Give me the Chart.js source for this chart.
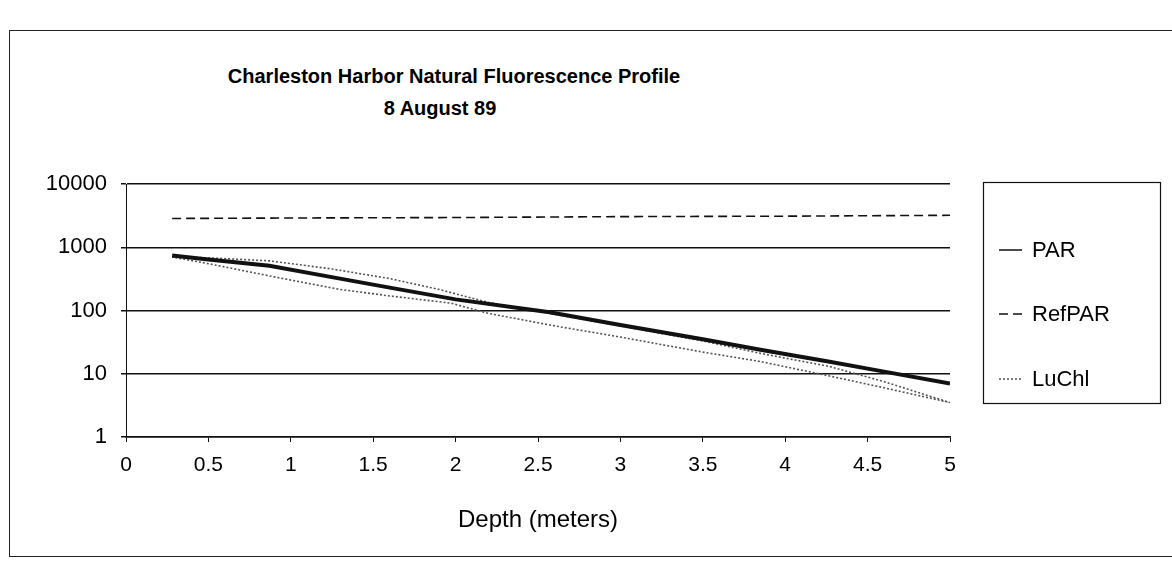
<!DOCTYPE html>
<html>
<head>
<meta charset="utf-8">
<script src="https://cdn.jsdelivr.net/npm/chart.js@4.4.1/dist/chart.umd.min.js"></script>
<style>
  html, body { margin: 0; padding: 0; background: #fff; }
  #wrap { position: relative; width: 1172px; height: 564px; overflow: hidden; font-family: "Liberation Sans", Arial, sans-serif; }
  #frame { position: absolute; left: 9px; top: 30px; width: 1200px; height: 525px; border-left: 1.5px solid #222; border-top: 1.5px solid #222; border-bottom: 1.5px solid #222; }
  .ttl { position: absolute; white-space: nowrap; font-weight: bold; color: #000; transform: translate(-50%, -50%); }
  #t1 { left: 454px; top: 76px; font-size: 20px; }
  #t2 { left: 440px; top: 108px; font-size: 20px; }
  canvas { position: absolute; left: 0; top: 0; }
</style>
</head>
<body>
<div id="wrap">
  <div id="frame"></div>
  <div class="ttl" id="t1">Charleston Harbor Natural Fluorescence Profile</div>
  <div class="ttl" id="t2">8 August 89</div>
  <canvas id="c" width="1172" height="564"></canvas>
</div>
<script>
// ---- data ----
const seriesNames = ["PAR", "RefPAR", "LuChl"];
const xTickLabels = ["0", "0.5", "1", "1.5", "2", "2.5", "3", "3.5", "4", "4.5", "5"];
const yTickLabels = ["1", "10", "100", "1000", "10000"];

const parDepth  = [0.28, 0.5, 0.87, 1.24, 1.6, 2.0, 2.57, 3.0, 3.5, 3.85, 4.27, 4.6, 5.0];
const parValues = [740, 640, 510, 340, 230, 150, 94, 59, 35, 24, 15.5, 10.8, 7];

const refDepth  = [0.28, 1.0, 2.0, 3.0, 4.0, 5.0];
const refValues = [2850, 2900, 2950, 3050, 3100, 3200];

// LuChl: down cast then up cast (loop)
const luDepth  = [0.28, 0.5, 0.87, 1.24, 1.6, 1.9, 2.2, 2.57, 3.0, 3.5, 3.85, 4.27, 4.6, 5.0,
                  4.6, 4.27, 3.85, 3.5, 3.0, 2.57, 2.2, 1.97, 1.6, 1.3, 0.9, 0.5, 0.28];
const luValues = [700, 680, 610, 457, 320, 215, 134, 90, 57, 33, 21, 13, 7.5, 3.5,
                  6, 9.2, 15.6, 22, 38, 59, 90, 131, 170, 215, 340, 550, 700];

function pts(xs, ys) { return xs.map((x, i) => ({ x: x, y: ys[i] })); }

const FONT = "'Liberation Sans', Arial, sans-serif";

const legendPlugin = {
  id: 'boxLegend',
  afterDraw(chart) {
    const ctx = chart.ctx;
    ctx.save();
    ctx.strokeStyle = '#111';
    ctx.lineWidth = 1.2;
    ctx.setLineDash([]);
    ctx.strokeRect(983.5, 182.5, 177, 221);
    const ys = [250, 314, 379];
    chart.data.datasets.forEach((ds, i) => {
      ctx.beginPath();
      ctx.strokeStyle = ds.borderColor;
      ctx.lineWidth = Math.min(ds.borderWidth, 1.5);
      ctx.setLineDash(ds.borderDash || []);
      ctx.moveTo(999, ys[i]);
      ctx.lineTo(1022, ys[i]);
      ctx.stroke();
      ctx.setLineDash([]);
      ctx.fillStyle = '#000';
      ctx.font = '22px ' + FONT;
      ctx.textBaseline = 'middle';
      ctx.textAlign = 'left';
      ctx.fillText(ds.label, 1032, ys[i] + 1);
    });
    ctx.restore();
  }
};

new Chart(document.getElementById('c'), {
  type: 'scatter',
  data: {
    datasets: [
      { label: seriesNames[0], data: pts(parDepth, parValues), showLine: true, borderColor: '#111', borderWidth: 4, pointRadius: 0, tension: 0 },
      { label: seriesNames[1], data: pts(refDepth, refValues), showLine: true, borderColor: '#111', borderWidth: 1.6, borderDash: [9, 5], pointRadius: 0, tension: 0 },
      { label: seriesNames[2], data: pts(luDepth, luValues), showLine: true, borderColor: '#555', borderWidth: 1.6, borderDash: [2, 2], pointRadius: 0, tension: 0 }
    ]
  },
  options: {
    responsive: false,
    animation: false,
    devicePixelRatio: 1,
    layout: { padding: { left: 0, top: 184, right: 222, bottom: 17 } },
    plugins: { legend: { display: false }, title: { display: false }, tooltip: { enabled: false } },
    scales: {
      x: {
        type: 'linear', min: 0, max: 5,
        border: { display: true, color: '#111', width: 1.6 },
        grid: { display: true, drawOnChartArea: false, drawTicks: true, tickLength: 5, color: '#111' },
        ticks: { stepSize: 0.5, padding: 11, color: '#000', font: { family: FONT, size: 21 },
                 maxRotation: 0, autoSkip: false,
                 callback: (v) => { const i = Math.round(v * 2); return xTickLabels[i]; } },
        title: { display: true, text: 'Depth (meters)', color: '#000', font: { family: FONT, size: 24 }, padding: { top: 0, bottom: 12 } },
        afterFit: (s) => { s.height = 110; }
      },
      y: {
        type: 'logarithmic', min: 1, max: 10000,
        border: { display: true, color: '#111', width: 1 },
        grid: { display: true, drawOnChartArea: true, drawTicks: true, tickLength: 5, color: '#111', lineWidth: 1.5 },
        afterBuildTicks: (s) => { s.ticks = yTickLabels.map(t => ({ value: Number(t) })); },
        ticks: { padding: 14, color: '#000', font: { family: FONT, size: 22 }, callback: (v) => String(v) },
        afterFit: (s) => { s.width = 126; }
      }
    }
  },
  plugins: [legendPlugin]
});
</script>
</body>
</html>
